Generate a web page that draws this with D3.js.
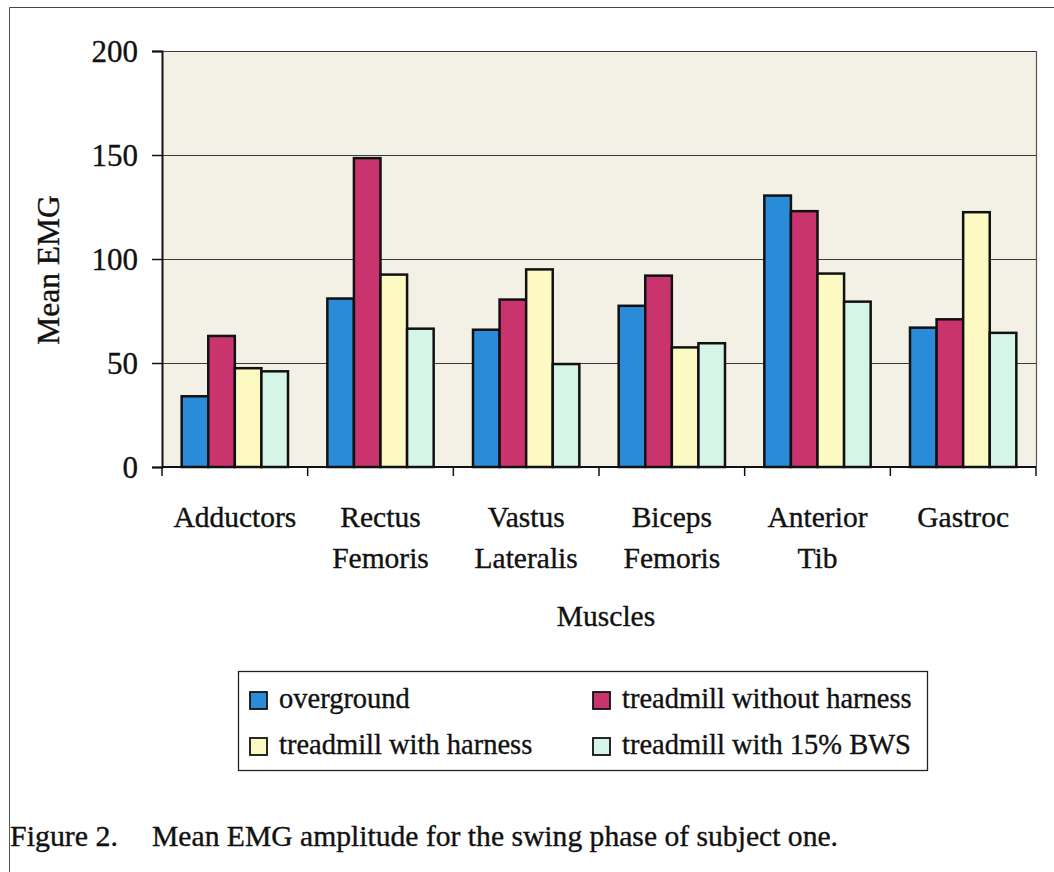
<!DOCTYPE html>
<html>
<head>
<meta charset="utf-8">
<script src="https://cdn.jsdelivr.net/npm/d3@7"></script>
<style>
  html, body { margin: 0; padding: 0; background: #ffffff; }
  svg { display: block; }
  text { font-family: "Liberation Serif", "Times New Roman", serif; fill: #111; stroke: #111; stroke-width: 0.35px; }
</style>
</head>
<body>
<svg id="chart" width="1054" height="872"></svg>
<script>
const categories = [["Adductors"], ["Rectus", "Femoris"], ["Vastus", "Lateralis"], ["Biceps", "Femoris"], ["Anterior", "Tib"], ["Gastroc"]];
const seriesNames = ["overground", "treadmill without harness", "treadmill with harness", "treadmill with 15% BWS"];
const overground      = [34, 81, 66, 77.5, 130.5, 67];
const treadmillNoHarn = [63, 148.5, 80.5, 92, 123, 71];
const treadmillHarn   = [47.5, 92.5, 95, 57.5, 93, 122.5];
const treadmillBWS    = [46, 66.5, 49.5, 59.5, 79.5, 64.5];
const yTicks = [0, 50, 100, 150, 200];
const colors = ["#2a8bd8", "#c9346f", "#fcf9c2", "#d6f5e9"];

const seriesValues = [overground, treadmillNoHarn, treadmillHarn, treadmillBWS];
const catKeys = categories.map(c => c.join(" "));

const svg = d3.select("#chart");
const plot = { left: 162, right: 1036, top: 51, bottom: 467 };

// outer frame (page border)
svg.append("line").attr("x1", 9.5).attr("x2", 1054).attr("y1", 7.5).attr("y2", 7.5)
  .attr("stroke", "#3a4a45").attr("stroke-width", 1.2);
svg.append("line").attr("x1", 9.5).attr("x2", 9.5).attr("y1", 7.5).attr("y2", 872)
  .attr("stroke", "#4a5a55").attr("stroke-width", 1);

const x0 = d3.scaleBand().domain(catKeys).range([plot.left, plot.right]).paddingInner(0).paddingOuter(0);
const x1 = d3.scaleBand().domain(seriesNames).range([0, x0.bandwidth()]).paddingInner(0).paddingOuter(0.74);
const y = d3.scaleLinear().domain([0, 200]).range([plot.bottom, plot.top]);

// plot background
svg.append("rect").attr("x", plot.left).attr("y", plot.top)
  .attr("width", plot.right - plot.left).attr("height", plot.bottom - plot.top)
  .attr("fill", "#f3f1e5");

// gridlines
svg.append("g").selectAll("line").data(yTicks.filter(t => t > 0)).join("line")
  .attr("x1", plot.left).attr("x2", plot.right)
  .attr("y1", d => Math.round(y(d)) + 0.5).attr("y2", d => Math.round(y(d)) + 0.5)
  .attr("stroke", "#3a3a3a").attr("stroke-width", 1.2);

// right border of plot
svg.append("line").attr("x1", plot.right + 0.5).attr("x2", plot.right + 0.5)
  .attr("y1", plot.top).attr("y2", plot.bottom).attr("stroke", "#555").attr("stroke-width", 1.2);

// bars
const groups = svg.append("g").selectAll("g").data(catKeys).join("g")
  .attr("transform", d => `translate(${x0(d)},0)`);
groups.selectAll("rect").data((d, i) => seriesNames.map((s, j) => ({ s, j, v: seriesValues[j][i] })))
  .join("rect")
  .attr("x", d => x1(d.s))
  .attr("width", x1.bandwidth())
  .attr("y", d => y(d.v))
  .attr("height", d => y(0) - y(d.v))
  .attr("fill", d => colors[d.j])
  .attr("stroke", "#111")
  .attr("stroke-width", 2.5);

// y axis
const yAxis = d3.axisLeft(y).tickValues(yTicks).tickSize(10).tickPadding(14).tickFormat(d3.format("d"));
const gy = svg.append("g").attr("transform", `translate(${plot.left},0)`).call(yAxis);
gy.select(".domain").attr("stroke", "#111").attr("stroke-width", 2);
gy.selectAll(".tick line").attr("stroke", "#111").attr("stroke-width", 1.5);
gy.selectAll(".tick text").attr("font-size", 31).attr("fill", "#111")
  .attr("font-family", "'Liberation Serif', serif").attr("dy", "0.34em");

// x axis
const xTickScale = d3.scaleLinear().domain([0, categories.length]).range([plot.left, plot.right]);
const gx = svg.append("g").attr("transform", `translate(0,${plot.bottom})`);
gx.append("line").attr("x1", plot.left).attr("x2", plot.right).attr("y1", 0).attr("y2", 0)
  .attr("stroke", "#111").attr("stroke-width", 2);
gx.selectAll("line.tk").data(d3.range(categories.length + 1)).join("line").attr("class", "tk")
  .attr("x1", d => xTickScale(d)).attr("x2", d => xTickScale(d)).attr("y1", 0).attr("y2", 9)
  .attr("stroke", "#111").attr("stroke-width", 1.5);

// category labels
const catLabels = svg.append("g").selectAll("text").data(categories).join("text")
  .attr("x", (d, i) => x0(catKeys[i]) + x0.bandwidth() / 2)
  .attr("y", 527)
  .attr("text-anchor", "middle")
  .attr("font-size", 29.5);
catLabels.selectAll("tspan").data(d => d).join("tspan")
  .attr("x", function() { return d3.select(this.parentNode).attr("x"); })
  .attr("dy", (d, i) => i === 0 ? 0 : 41)
  .text(d => d);

// axis titles
svg.append("text").attr("x", 606).attr("y", 626).attr("text-anchor", "middle")
  .attr("font-size", 29.5).text("Muscles");
svg.append("text").attr("transform", "translate(59,270) rotate(-90)").attr("text-anchor", "middle")
  .attr("font-size", 31.5).text("Mean EMG");

// legend
const legend = svg.append("g");
legend.append("rect").attr("x", 238.5).attr("y", 671.5).attr("width", 689).attr("height", 99)
  .attr("fill", "#fff").attr("stroke", "#222").attr("stroke-width", 1.3);
const legPos = [[250, 692], [593, 692], [250, 738], [593, 738]];
seriesNames.forEach((s, j) => {
  legend.append("rect").attr("x", legPos[j][0]).attr("y", legPos[j][1]).attr("width", 17).attr("height", 17)
    .attr("fill", colors[j]).attr("stroke", "#111").attr("stroke-width", 1.8);
  legend.append("text").attr("x", legPos[j][0] + 29).attr("y", legPos[j][1] + 16)
    .attr("font-size", 28.5).text(s);
});

// caption
svg.append("text").attr("x", 10).attr("y", 846).attr("font-size", 29)
  .attr("textLength", 108).attr("lengthAdjust", "spacingAndGlyphs").text("Figure 2.");
svg.append("text").attr("x", 152).attr("y", 846).attr("font-size", 29)
  .attr("textLength", 686).attr("lengthAdjust", "spacingAndGlyphs")
  .text("Mean EMG amplitude for the swing phase of subject one.");
</script>
</body>
</html>
